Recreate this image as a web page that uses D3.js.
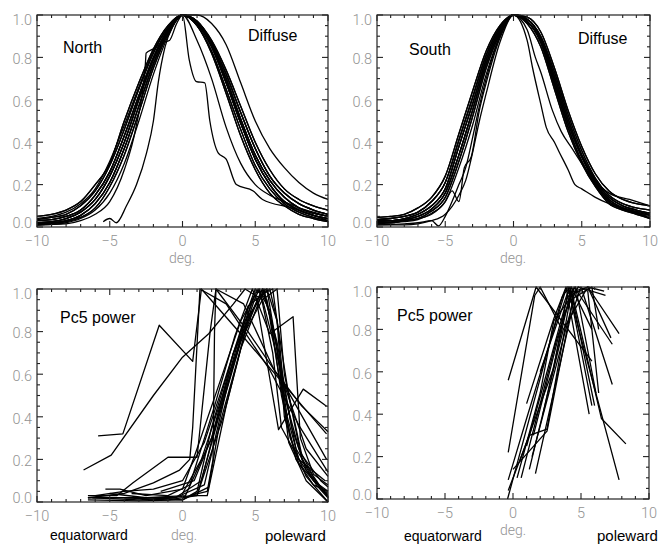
<!DOCTYPE html>
<html><head><meta charset="utf-8">
<script src="https://cdn.jsdelivr.net/npm/d3@7"></script>
<style>body{margin:0;background:#fff}</style></head>
<body>
<script>
// ---------------- DATA ----------------
const xTickValues = [-10, -5, 0, 5, 10];
const xTickLabels = ["\u221210", "\u22125", "0", "5", "10"];
const yTickValues = [0, 0.2, 0.4, 0.6, 0.8, 1.0];
const yTickLabels = ["0.0", "0.2", "0.4", "0.6", "0.8", "1.0"];
const gridX = [-10,-9,-8,-7,-6,-5,-4,-3,-2,-1,0,1,2,3,4,5,6,7,8,9,10];

// North, diffuse (values on gridX)
const northCurves = [
  [.05,.06,.08,.12,.20,.30,.50,.68,.84,.95,1,1.0,.96,.86,.68,.50,.37,.28,.21,.16,.13],
  [.035,.045,.06,.10,.17,.29,.46,.65,.82,.94,1,.97,.88,.74,.57,.40,.27,.18,.13,.10,.08],
  [.03,.035,.05,.08,.15,.26,.43,.62,.80,.93,1,.97,.87,.72,.54,.37,.24,.16,.11,.08,.06],
  [.02,.025,.04,.07,.13,.24,.40,.60,.79,.93,1,.96,.86,.70,.51,.34,.22,.14,.09,.065,.05],
  [.015,.02,.03,.055,.11,.21,.37,.57,.77,.92,1,.96,.85,.68,.49,.32,.20,.12,.08,.055,.04],
  [.01,.015,.025,.045,.09,.19,.34,.54,.75,.91,1,.95,.83,.65,.46,.29,.18,.11,.07,.045,.03],
  [.01,.012,.02,.04,.08,.16,.30,.50,.72,.90,1,.95,.82,.63,.43,.27,.16,.10,.06,.04,.025],
  [.035,.045,.06,.10,.17,.29,.46,.65,.82,.94,1,.96,.86,.70,.51,.34,.22,.14,.09,.065,.05],
  [.03,.035,.05,.08,.15,.26,.43,.62,.80,.93,1,.96,.85,.68,.49,.32,.20,.12,.08,.055,.04],
  [.02,.025,.04,.07,.13,.24,.40,.60,.79,.93,1,.97,.88,.74,.57,.40,.27,.18,.13,.10,.08],
  [.015,.02,.03,.055,.11,.21,.37,.57,.77,.92,1,.97,.87,.72,.54,.37,.24,.16,.11,.08,.06],
  [.05,.06,.08,.12,.20,.30,.50,.68,.84,.95,1,.95,.83,.65,.46,.29,.18,.11,.07,.045,.03],
  [.03,.035,.05,.08,.15,.26,.43,.62,.80,.93,1,.95,.82,.63,.43,.27,.16,.10,.06,.04,.025],
  [.01,.015,.025,.045,.09,.19,.34,.54,.75,.91,1,.96,.86,.70,.51,.34,.22,.14,.09,.065,.05],
  [.04,.05,.07,.11,.18,.31,.48,.66,.83,.94,1,.96,.85,.68,.49,.32,.20,.12,.08,.055,.04],
  [.02,.025,.04,.07,.13,.24,.40,.60,.79,.93,1,.88,.70,.47,.30,.20,.15,.12,.09,.07,.05]
];
const northNarrowX = [-5.45,-5,-4.55,-3.85,-3.16,-2.47,-2,-1.67,-1.2,-0.64,0,1,2,3,4,5,6,7,8,9,10];
const northNarrowY = [.025,.04,.02,.10,.20,.35,.50,.68,.85,.95,1,.96,.85,.68,.49,.32,.20,.12,.08,.055,.04];
const northStepLX = [-10,-8,-7,-6,-5,-4,-3.2,-2.55,-2.5,-2,-1.4,-0.9,-0.4,0,1,2,3,4,5,6,7,8,9,10];
const northStepLY = [.01,.015,.03,.06,.12,.27,.47,.77,.82,.84,.87,.88,.96,1,.97,.87,.72,.54,.37,.24,.16,.11,.08,.06];
const northStepRX = [-10,-9,-8,-7,-6,-5,-4,-3,-2,-1,0,0.46,0.96,1.53,1.88,2.45,3.0,3.7,4.86,5.5,7.5,10];
const northStepRY = [.015,.02,.03,.055,.11,.21,.37,.57,.77,.92,1,.79,.686,.68,.50,.35,.32,.20,.17,.13,.09,.03];

// South, diffuse (values on gridX)
const southCurves = [
  [.045,.05,.06,.09,.14,.24,.44,.64,.83,.95,1,.99,.92,.75,.55,.38,.25,.17,.13,.11,.10],
  [.035,.04,.05,.07,.12,.21,.41,.61,.81,.94,1,.98,.90,.73,.53,.36,.23,.15,.11,.09,.08],
  [.03,.03,.04,.06,.10,.18,.38,.58,.79,.93,1,.98,.89,.71,.51,.34,.22,.14,.10,.08,.065],
  [.025,.03,.035,.05,.085,.16,.34,.55,.77,.92,1,.97,.88,.69,.49,.33,.21,.13,.09,.07,.055],
  [.02,.02,.03,.04,.075,.14,.31,.52,.75,.91,1,.97,.87,.67,.47,.31,.20,.12,.085,.065,.045],
  [.015,.02,.025,.035,.065,.12,.28,.48,.72,.90,1,.96,.85,.65,.45,.30,.19,.11,.08,.06,.04],
  [.045,.05,.06,.09,.14,.24,.44,.64,.83,.95,1,.98,.89,.71,.51,.34,.22,.14,.10,.08,.065],
  [.035,.04,.05,.07,.12,.21,.41,.61,.81,.94,1,.97,.87,.67,.47,.31,.20,.12,.085,.065,.045],
  [.03,.03,.04,.06,.10,.18,.38,.58,.79,.93,1,.96,.85,.65,.45,.30,.19,.11,.08,.06,.04],
  [.025,.03,.035,.05,.085,.16,.34,.55,.77,.92,1,.98,.90,.73,.53,.36,.23,.15,.11,.09,.08],
  [.035,.04,.05,.07,.12,.21,.41,.61,.81,.94,1,.97,.88,.69,.49,.33,.21,.13,.09,.07,.055],
  [.02,.02,.03,.04,.075,.14,.31,.52,.75,.91,1,.99,.92,.75,.55,.38,.25,.17,.13,.11,.10]
];
const southDip1X = [-10,-8,-7,-6,-5.5,-5,-4.5,-4,-3.5,-3,-2.5,-2,-1,0,1,2,3,4,5,6,7,8,9,10];
const southDip1Y = [.01,.015,.02,.03,.005,.05,.12,.20,.28,.42,.57,.70,.90,1,.98,.89,.71,.51,.34,.22,.14,.10,.08,.065];
const southDip2X = [-10,-8,-7,-6,-5,-4.5,-4,-3.6,-3.1,-2.5,-2,-1,0,1,2,3,4,5,6,7,8,9,10];
const southDip2Y = [.02,.03,.04,.06,.12,.17,.12,.28,.33,.55,.68,.89,1,.97,.87,.67,.47,.31,.20,.12,.085,.065,.045];
const southNarrowX = [-10,-8,-6,-5,-4,-3.5,-3,-2.5,-2,-1,0,1,2,3,4,5,6,7,8,9,10];
const southNarrowY = [.01,.01,.03,.06,.15,.22,.35,.50,.63,.87,1,.97,.88,.69,.49,.33,.21,.13,.09,.07,.055];
const southFastAX = [-10,-9,-8,-7,-6,-5,-4,-3,-2,-1,0,1,1.4,2,2.4,3,3.3,4,4.5,5,6,7,8,10];
const southFastAY = [.03,.03,.04,.06,.10,.18,.38,.58,.79,.93,1,.88,.75,.58,.47,.40,.36,.27,.20,.18,.14,.11,.09,.06];
const southFastBX = [-10,-9,-8,-7,-6,-5,-4,-3,-2,-1,0,1,1.6,2,2.85,3.5,4.3,5,5.8,7,8.5,10];
const southFastBY = [.025,.03,.035,.05,.085,.16,.34,.55,.77,.92,1,.93,.80,.73,.55,.45,.37,.30,.23,.16,.13,.10];

// North, Pc5 power  ([deg, normalised power])
const pc5North = [
  [[-5.8,.31],[-4.1,.32],[-1.6,.83],[0.7,.66],[1.3,1.0],[4.0,.79],[6.5,.59],[8.5,.43],[9.9,.32]],
  [[-6.8,.15],[-4.9,.22],[-2,.5],[0,.68],[1.8,.79],[3.5,.93],[4.3,1.0],[5.5,.95],[7,.55],[8.5,.25],[10,.12]],
  [[-6.5,.02],[-4,.02],[-1,.02],[0.8,.03],[1.7,.03],[3.0,.45],[4.5,.85],[5.5,1.0],[6.5,.75],[7.5,.35],[8.5,.15],[10,.03]],
  [[-6.5,.01],[-3,.005],[0,.01],[1.0,.05],[2.0,.35],[3.5,.7],[5.0,.98],[5.8,1.0],[6.5,.85],[7.3,.5],[8.2,.2],[9.2,.08],[10,.02]],
  [[-5.3,.06],[-4.3,.06],[-2.5,.03],[0,.06],[1.0,.25],[2.5,.55],[4.0,.85],[5.2,1.0],[6.0,.9],[6.8,.5],[7.8,.2],[9,.08],[10,.05]],
  [[-6.5,.03],[-4.5,.03],[-3.4,.09],[-1.0,.21],[1.0,.21],[1.9,.80],[2.3,1.0],[4.5,.80],[7.0,.55],[9.9,.20]],
  [[-6.5,.02],[-4,.04],[-2,.09],[-0.2,.15],[0.5,.2],[0.7,.35],[1.2,1.0],[3.0,.93],[6.0,.62],[8.0,.36],[10,.14]],
  [[-6.0,.03],[-4.0,.05],[-2.0,.06],[0,.10],[1.5,.28],[2.8,.55],[4.2,.85],[5.0,1.0],[5.8,.95],[6.5,.65],[7.4,.3],[8.5,.12],[10,.0]],
  [[-5.0,.04],[-2.5,.02],[0.2,.03],[2.0,.3],[3.5,.7],[5.5,1.0],[6.3,.8],[7.2,.4],[8.0,.2],[9,.1],[10,.04]],
  [[-3.5,.04],[-1,.03],[0.5,.08],[2.2,.45],[3.6,.78],[4.8,1.0],[6.0,.79],[7.6,.87],[8.1,.3],[9.0,.13],[10,.08]],
  [[-4,.02],[-1,.01],[1.0,.03],[2.5,.4],[4.0,.75],[5.3,.97],[6.2,1.0],[6.6,.8],[7.0,.5],[8,.25],[9,.12],[10,.02]],
  [[-2,.02],[0,.01],[1.8,.07],[2.5,.35],[4.0,.72],[5.6,1.0],[6.5,.72],[7.3,.28],[8.5,.1],[10,0]],
  [[-1.5,.05],[0.8,.1],[2.0,.3],[3.3,.6],[4.6,.9],[5.0,.98],[6.6,.34],[8.3,.53],[9.9,.45]],
  [[0,.04],[1.3,.2],[3.0,.55],[4.5,.92],[6.0,1.0],[6.5,.85],[7.0,.4],[8.0,.18],[9.0,.1],[10,.05]],
  [[-0.5,.02],[1.5,.08],[3.0,.52],[4.3,.85],[5.8,1.0],[6.8,.6],[7.8,.25],[9.5,.06],[10,.03]],
  [[0.5,.03],[1.7,.05],[2.1,.2],[2.2,.8],[2.3,1.0],[4.2,.93],[6.3,.62],[8.2,.45],[10,.33]],
  [[1.0,.03],[2.8,.4],[4.3,.8],[5.5,.95],[6.5,1.0],[7.0,.6],[8.2,.22],[9.5,.1],[10,.07]],
  [[-6.2,.02],[-3.0,.01],[-0.5,.02],[1.3,.1],[3.2,.6],[5.0,.96],[5.3,1.0],[6.2,.7],[6.8,.35],[8.0,.2],[9.8,.1]]
];

// South, Pc5 power
const pc5South = [
  [[-0.35,.56],[1.7,1.0],[5.8,.65]],
  [[-0.35,.22],[1.6,.96],[2.0,1.0],[3.6,.80]],
  [[-0.4,0],[1.5,.45],[3.6,.95],[4.0,1.0],[7.8,.09]],
  [[-0.35,.04],[1.2,.3],[2.5,.33],[4.3,.98],[6.5,.38],[8.3,.26]],
  [[-0.35,.09],[1.0,.38],[3.8,.97],[4.2,1.0],[6.0,.44]],
  [[0.6,.1],[3.2,.75],[4.5,1.0],[7.3,.73]],
  [[1.2,.14],[3.7,.8],[5.5,1.0],[7.8,.78]],
  [[1.65,.12],[4.2,.85],[5.0,1.0],[7.3,.54]],
  [[0.0,.14],[2.5,.32],[4.5,.97],[5.5,1.0],[7.2,.76]],
  [[1.4,.2],[4.5,.95],[5.8,1.0],[6.3,.8]],
  [[0.5,.18],[3.0,.62],[4.1,1.0],[5.8,.44]],
  [[1.0,.25],[4.0,.95],[4.6,1.0],[6.1,.5]],
  [[1.5,.3],[3.8,.88],[4.8,1.0],[6.8,.96]],
  [[2.2,.4],[4.3,1.0],[5.8,.8]],
  [[1.0,.45],[3.0,.85],[3.9,1.0],[5.6,.4]],
  [[2.0,.6],[4.0,.97],[5.5,1.0],[6.7,.98]],
  [[0.3,.1],[2.0,.5],[3.0,.84],[4.8,1.0],[5.5,.98],[6.3,.5]]
];

// ---------------- DRAWING ----------------
const W = 664, H = 545;
const svg = d3.select("body").append("svg")
  .attr("width", W).attr("height", H).style("display", "block");

const zip = (xs, ys) => xs.map((v, i) => [v, ys[i]]);
const onGrid = ys => gridX.map((v, i) => [v, ys[i]]);

const LABEL_FONT = "Roboto, 'DejaVu Sans', sans-serif";
const TITLE_FONT = "'Liberation Sans', Arial, sans-serif";
const GRAY = "#939393";

function drawPanel(box, lines, curveFn) {
  const x = d3.scaleLinear().domain([-10, 10]).range([box.l, box.r]);
  const y = d3.scaleLinear().domain([0, 1]).range([box.b, box.t]);
  const g = svg.append("g");

  const line = d3.line().x(d => x(d[0])).y(d => y(d[1])).curve(curveFn);
  g.selectAll("path.ln").data(lines).join("path")
    .attr("class", "ln")
    .attr("d", line)
    .attr("fill", "none")
    .attr("stroke", "#000")
    .attr("stroke-width", 1.3)
    .attr("stroke-linejoin", "round");

  // frame
  g.append("rect").attr("x", box.l).attr("y", box.t)
    .attr("width", box.r - box.l).attr("height", box.b - box.t)
    .attr("fill", "none").attr("stroke", "#222").attr("stroke-width", 1.2);

  // x ticks (inside, bottom and top)
  d3.range(-10, 10.001, 1).forEach(v => {
    const major = Math.abs(v % 5) < 1e-9;
    const len = major ? 6 : 3;
    const px = x(v);
    g.append("line").attr("x1", px).attr("x2", px).attr("y1", box.b).attr("y2", box.b - len)
      .attr("stroke", "#222").attr("stroke-width", 1.1);
    g.append("line").attr("x1", px).attr("x2", px).attr("y1", box.t).attr("y2", box.t + len)
      .attr("stroke", "#222").attr("stroke-width", 1.1);
  });
  // y ticks (inside, left and right)
  d3.range(0, 21).forEach(i => {
    const major = i % 4 === 0;
    const len = major ? 6 : 3;
    const py = y(i * 0.05);
    g.append("line").attr("x1", box.l).attr("x2", box.l + len).attr("y1", py).attr("y2", py)
      .attr("stroke", "#222").attr("stroke-width", 1.1);
    g.append("line").attr("x1", box.r).attr("x2", box.r - len).attr("y1", py).attr("y2", py)
      .attr("stroke", "#222").attr("stroke-width", 1.1);
  });

  // tick labels
  g.selectAll("text.xl").data(xTickValues).join("text")
    .attr("class", "xl")
    .attr("x", d => x(d)).attr("y", box.b + 19)
    .attr("text-anchor", "middle")
    .attr("font-family", LABEL_FONT).attr("font-weight", 300)
    .attr("font-size", 14.5).attr("fill", GRAY)
    .text((d, i) => xTickLabels[i]);
  g.selectAll("text.yl").data(yTickValues).join("text")
    .attr("class", "yl")
    .attr("x", box.l - 5)
    .attr("y", d => y(d) + 5.2 + (d === 1 ? 5 : d === 0 ? -4 : 1.5))
    .attr("text-anchor", "end")
    .attr("font-family", LABEL_FONT).attr("font-weight", 300)
    .attr("font-size", 14.5).attr("fill", GRAY)
    .text((d, i) => yTickLabels[i]);
  return g;
}

function label(txt, xx, yy, size, color, font, weight, anchor) {
  svg.append("text").attr("x", xx).attr("y", yy)
    .attr("font-family", font || TITLE_FONT)
    .attr("font-weight", weight || 400)
    .attr("text-anchor", anchor || "start")
    .attr("font-size", size).attr("fill", color || "#000").text(txt);
}

const boxTL = {l: 37, r: 328, t: 15, b: 227};
const boxTR = {l: 377, r: 650, t: 15, b: 227};
const boxBL = {l: 37, r: 328, t: 289, b: 502};
const boxBR = {l: 377, r: 649, t: 287, b: 499};

const northLines = northCurves.map(onGrid).concat([
  zip(northNarrowX, northNarrowY), zip(northStepLX, northStepLY), zip(northStepRX, northStepRY)
]);
const southLines = southCurves.map(onGrid).concat([
  zip(southDip1X, southDip1Y), zip(southDip2X, southDip2Y), zip(southNarrowX, southNarrowY),
  zip(southFastAX, southFastAY), zip(southFastBX, southFastBY)
]);

drawPanel(boxTL, northLines, d3.curveMonotoneX);
drawPanel(boxTR, southLines, d3.curveMonotoneX);
drawPanel(boxBL, pc5North, d3.curveLinear);
drawPanel(boxBR, pc5South, d3.curveLinear);

// panel texts
label("North", 63, 53, 16);
label("Diffuse", 248, 41, 16);
label("South", 409, 55, 16);
label("Diffuse", 578, 44, 16);
label("Pc5 power", 60, 323, 16);
label("Pc5 power", 397, 321, 16);

// axis titles
label("deg.", 182, 263, 14, GRAY, LABEL_FONT, 300, "middle");
label("deg.", 513, 263, 14, GRAY, LABEL_FONT, 300, "middle");
label("deg.", 184, 540, 14, GRAY, LABEL_FONT, 300, "middle");
label("deg.", 513, 535, 14, GRAY, LABEL_FONT, 300, "middle");

label("equatorward", 50, 540, 14);
label("poleward", 265, 541, 15);
label("equatorward", 404, 541, 14);
label("poleward", 597, 541, 15);
</script>
</body></html>
